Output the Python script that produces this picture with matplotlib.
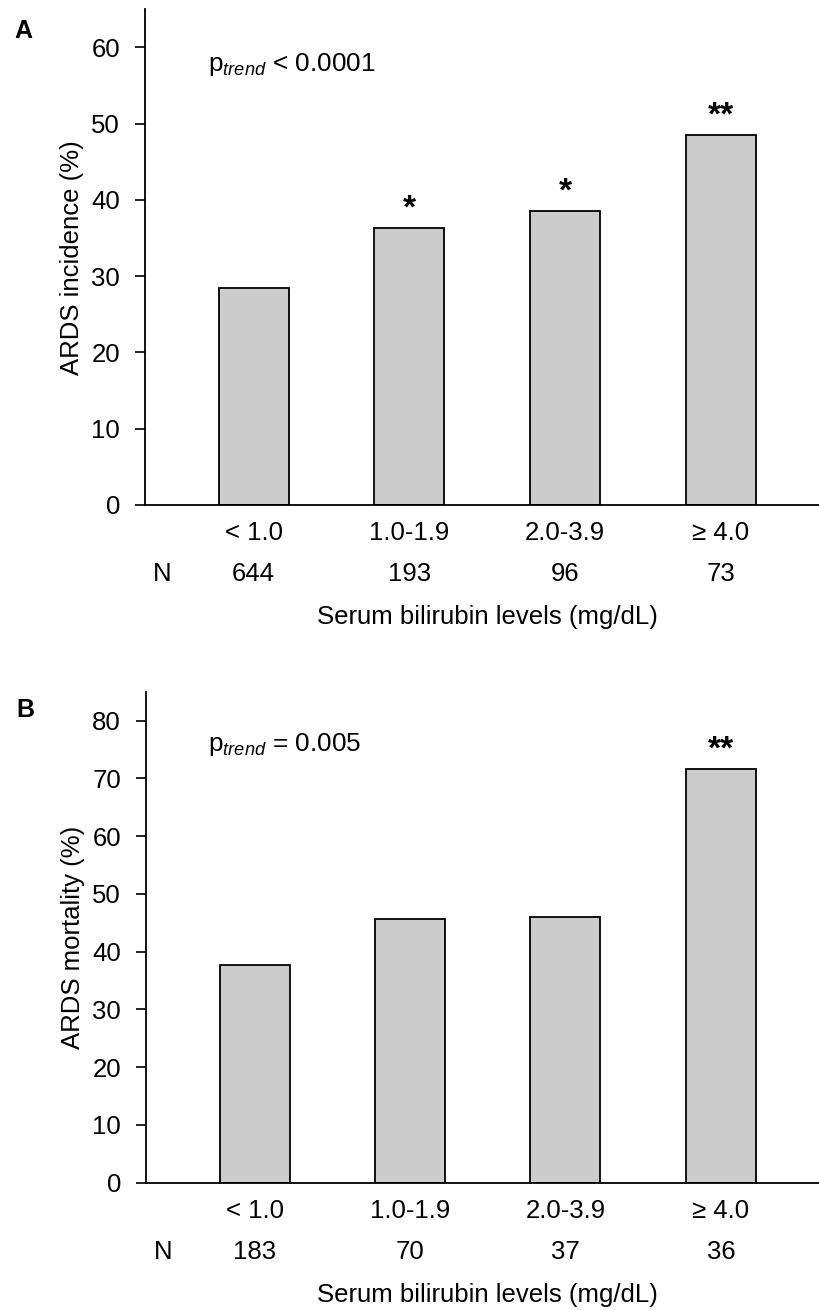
import matplotlib
matplotlib.use("Agg")
import matplotlib.pyplot as plt

plt.rcParams['font.family'] = ['Liberation Sans', 'DejaVu Sans']
plt.rcParams['mathtext.fontset'] = 'custom'
plt.rcParams['mathtext.rm'] = 'Liberation Sans'
plt.rcParams['mathtext.it'] = 'Liberation Sans:italic'

categories = ["< 1.0", "1.0-1.9", "2.0-3.9", "≥ 4.0"]
incidence = [28.5, 36.3, 38.5, 48.5]
n_incidence = [644, 193, 96, 73]
stars_incidence = ["", "*", "*", "**"]
mortality = [37.7, 45.7, 45.9, 71.6]
n_mortality = [183, 70, 37, 36]
stars_mortality = ["", "", "", "**"]

W, H = 820, 1310
FS = 18.5
fig = plt.figure(figsize=(W / 100, H / 100), dpi=100)

def px_axes(left, top, right, bottom):
    return fig.add_axes([left / W, 1 - bottom / H, (right - left) / W, (bottom - top) / H])

def panel(ax, values, ns, stars, ylim, yticks, ylabel):
    x = list(range(len(categories)))
    ax.bar(x, values, width=0.45, color="#cccccc", edgecolor="black", linewidth=1.3, zorder=2)
    ax.set_xlim(-0.698, 3.637)
    ax.set_ylim(0, ylim)
    ax.set_yticks(yticks)
    ax.set_yticklabels([str(t) for t in yticks], fontsize=FS)
    ax.tick_params(axis='y', direction='out', length=7, width=1.2, pad=11)
    ax.set_xticks([])
    for s in ("top", "right"):
        ax.spines[s].set_visible(False)
    for s in ("left", "bottom"):
        ax.spines[s].set_linewidth(1.3)
    ax.set_ylabel(ylabel, fontsize=FS, labelpad=5)
    for xi, cat, n in zip(x, categories, ns):
        ax.annotate(cat, xy=(xi, 0), xycoords=('data', 'axes fraction'),
                    xytext=(0, -20.5), textcoords='offset points',
                    ha='center', va='center', fontsize=FS)
        ax.annotate(str(n), xy=(xi, 0), xycoords=('data', 'axes fraction'),
                    xytext=(0, -50), textcoords='offset points',
                    ha='center', va='center', fontsize=FS)
    ax.annotate("N", xy=(0.025, 0), xycoords='axes fraction',
                xytext=(0, -50), textcoords='offset points',
                ha='center', va='center', fontsize=FS)
    ax.annotate("Serum bilirubin levels (mg/dL)", xy=(1.5, 0), xycoords=('data', 'axes fraction'),
                xytext=(0, -81), textcoords='offset points',
                ha='center', va='center', fontsize=FS)
    for xi, v, st in zip(x, values, stars):
        if st:
            ax.annotate(st, xy=(xi, v), xytext=(0, 2.5), textcoords='offset points',
                        ha='center', va='bottom', fontsize=24, fontweight='bold')
    return ax

axA = px_axes(145, 9.3, 820, 505)
panel(axA, incidence, n_incidence, stars_incidence, 65, [0, 10, 20, 30, 40, 50, 60],
      "ARDS incidence (%)")
axB = px_axes(146, 691.7, 820, 1182.5)
panel(axB, mortality, n_mortality, stars_mortality, 85, [0, 10, 20, 30, 40, 50, 60, 70, 80],
      "ARDS mortality (%)")

fig.text(208 / W, 1 - 64.5 / H, r"p$_{trend}$ < 0.0001", fontsize=18.8, va='center', ha='left')
fig.text(208 / W, 1 - 744.5 / H, r"p$_{trend}$ = 0.005", fontsize=18.8, va='center', ha='left')
fig.text(14 / W, 1 - 31 / H, "A", fontsize=18, fontweight='bold', va='center', ha='left')
fig.text(16 / W, 1 - 710 / H, "B", fontsize=18, fontweight='bold', va='center', ha='left')

fig.savefig("out.png", dpi=100, facecolor="white")
